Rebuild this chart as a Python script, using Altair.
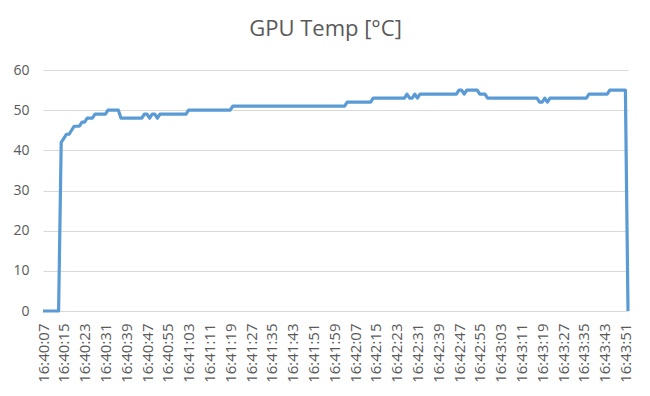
import altair as alt
import pandas as pd

chart_title = "GPU Temp [°C]"

# one sample per second starting at 16:40:07
times = pd.date_range("2024-01-01 16:40:07", periods=226, freq="s").strftime("%H:%M:%S").tolist()

temps = (
    [0, 0, 0, 0, 0, 0, 0]
    + [42, 43, 44, 44, 45, 46, 46, 46, 47, 47]
    + [48, 48, 48]
    + [49, 49, 49, 49, 49]
    + [50, 50, 50, 50, 50]
    + [48, 48, 48, 48, 48, 48, 48, 48, 48]
    + [49, 49, 48, 49, 49, 48]
    + [49] * 11
    + [50] * 17
    + [51] * 44
    + [52] * 10
    + [53] * 13
    + [54, 53, 53, 54, 53]
    + [54] * 15
    + [55, 55, 54, 55, 55, 55, 55, 55]
    + [54, 54, 54]
    + [53] * 20
    + [52, 52, 53, 52]
    + [53] * 15
    + [54] * 8
    + [55] * 7
    + [0]
)

tick_labels = times[::8]
y_ticks = [0, 10, 20, 30, 40, 50, 60]

df = pd.DataFrame({"time": times, "temp": temps})

font = "Open Sans"
txt = "#595959"
grid = "#d9d9d9"

chart = (
    alt.Chart(df)
    .mark_line(color="#5b9bd5", strokeWidth=3.2, strokeJoin="round")
    .encode(
        x=alt.X(
            "time:O",
            sort=None,
            scale=alt.Scale(type="point", padding=0),
            axis=alt.Axis(
                values=tick_labels,
                labelAngle=-90,
                title=None,
                ticks=False,
                tickSize=0,
                grid=False,
                domainColor=grid,
                domainWidth=1,
                labelColor=txt,
                labelFont=font,
                labelFontSize=15,
                labelPadding=12,
                labelOverlap=False,
            ),
        ),
        y=alt.Y(
            "temp:Q",
            scale=alt.Scale(domain=[0, 60], nice=False),
            axis=alt.Axis(
                values=y_ticks,
                title=None,
                domain=False,
                ticks=False,
                tickSize=0,
                gridColor=grid,
                gridWidth=1,
                labelColor=txt,
                labelFont=font,
                labelFontSize=14,
                labelPadding=14,
            ),
        ),
    )
    .properties(
        width=585,
        height=241,
        autosize="none",
        padding={"left": 35, "top": 62, "right": 14, "bottom": 77},
        title=alt.TitleParams(
            text=chart_title,
            font=font,
            fontSize=22,
            fontWeight="normal",
            color=txt,
            offset=22,
            dx=-10,
        ),
    )
    .configure_view(stroke=None)
)

chart.save("out.html", embed_options={"renderer": "svg", "actions": False})
